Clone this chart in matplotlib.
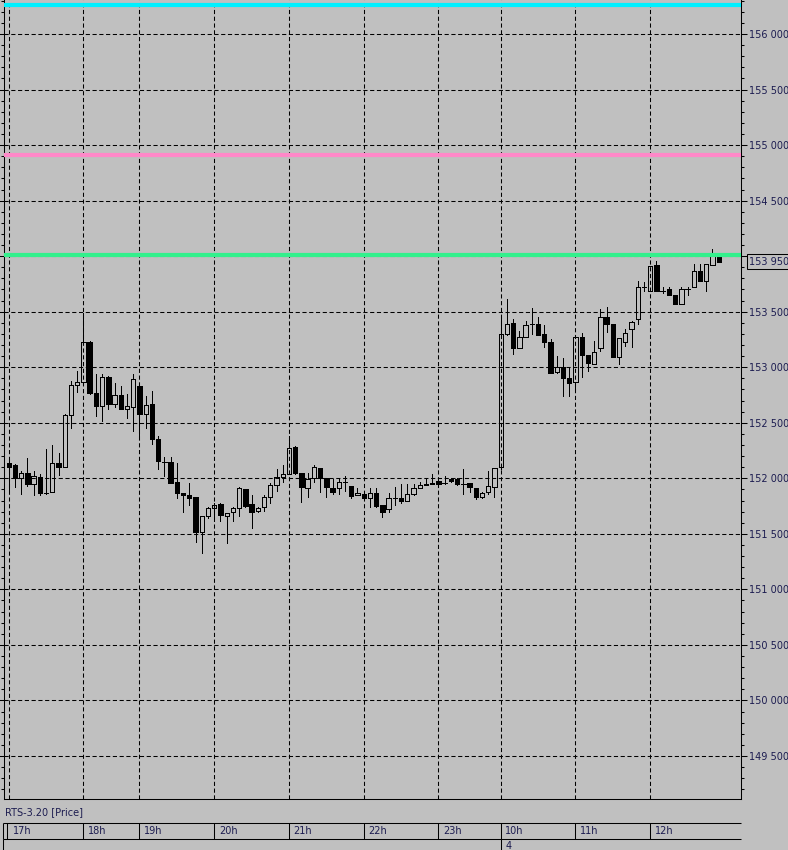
import matplotlib
matplotlib.use('Agg')
import matplotlib.pyplot as plt
import matplotlib.ticker as ticker
import numpy as np
import pandas as pd

# RTS-3.20, 5 minute bars: evening of 3 Feb + morning of 4 Feb 2020
sessions = [('2020-02-03 17:00', '2020-02-03 18:40'),
            ('2020-02-03 19:00', '2020-02-03 23:45'),
            ('2020-02-04 10:00', '2020-02-04 12:55')]

opens = [152140, 152120, 152000, 152050, 151950, 152010, 151870, 151880, 152140, 152100,
         152570, 152840, 152870, 153230, 152770, 152650, 152910, 152670, 152750, 152620,
         152640, 152830, 152580, 152670, 152350, 152150, 152150, 151970, 151870, 151850,
         151830, 151520, 151660, 151730, 151770, 151660, 151700, 151730, 151900, 151770,
         151710, 151740, 151830, 151940, 152010, 152040, 152280, 152050, 151910, 152000,
         152090, 152000, 151910, 151910, 151970, 151930, 151850, 151860, 151820, 151870,
         151760, 151720, 151820, 151820, 151800, 151860, 151910, 151950, 151960, 151980,
         151960, 151990, 151990, 151950, 151960, 151910, 151830, 151880, 151920, 152100,
         153300, 153400, 153170, 153270, 153390, 153390, 153300, 153230, 152960, 153000,
         152900, 152870, 153270, 153110, 153030, 153170, 153450, 153390, 153090, 153230,
         153340, 153430, 153720, 153690, 153920, 153690, 153700, 153650, 153570, 153700,
         153720, 153870, 153780, 153920, 153990]
highs = [152160, 152130, 152070, 152180, 152070, 152040, 152260, 152300, 152230, 152580,
         152880, 152970, 153490, 153240, 152940, 152940, 152920, 152860, 152830, 152760,
         152940, 152830, 152740, 152790, 152380, 152190, 152190, 152140, 151870, 151960,
         151830, 151660, 151740, 151780, 151780, 151690, 151740, 151920, 151900, 151850,
         151740, 151850, 151960, 152080, 152120, 152380, 152290, 152050, 152050, 152120,
         152090, 152000, 151990, 152000, 152020, 151930, 151910, 151860, 151910, 151910,
         151760, 151870, 151920, 151950, 151950, 151950, 151970, 152000, 152040, 151990,
         152020, 152000, 152000, 152080, 151960, 151910, 151880, 152070, 152090, 153460,
         153610, 153430, 153330, 153420, 153530, 153450, 153380, 153250, 153100, 153080,
         153000, 153280, 153310, 153110, 153240, 153520, 153540, 153390, 153260, 153340,
         153420, 153780, 153770, 153910, 153960, 153720, 153720, 153650, 153720, 153720,
         153930, 153930, 153930, 154060, 153990]
lows = [151890, 151920, 151860, 151930, 151850, 151850, 151860, 151880, 152030, 152100,
        152450, 152780, 152840, 152760, 152560, 152520, 152620, 152640, 152620, 152540,
        152430, 152370, 152450, 152310, 152080, 152020, 151960, 151820, 151700, 151760,
        151430, 151330, 151640, 151620, 151620, 151420, 151620, 151660, 151740, 151550,
        151700, 151710, 151780, 151890, 151970, 152040, 152040, 151790, 151830, 151970,
        151880, 151830, 151860, 151860, 151890, 151820, 151850, 151820, 151740, 151740,
        151650, 151700, 151760, 151780, 151800, 151850, 151910, 151940, 151950, 151950,
        151950, 151970, 151940, 151860, 151880, 151810, 151820, 151860, 151830, 152080,
        153290, 153120, 153170, 153270, 153300, 153290, 153180, 152950, 152950, 152740,
        152740, 152800, 152910, 152970, 153030, 153150, 153320, 153090, 153030, 153190,
        153180, 153390, 153690, 153690, 153690, 153670, 153650, 153570, 153570, 153650,
        153720, 153780, 153690, 153920, 153950]
closes = [152100, 152000, 152050, 151950, 152020, 151870, 151870, 152140, 152100, 152570,
          152840, 152870, 153230, 152770, 152650, 152910, 152670, 152750, 152620, 152650,
          152890, 152580, 152660, 152350, 152160, 152150, 151960, 151870, 151850, 151820,
          151520, 151660, 151730, 151760, 151670, 151690, 151730, 151910, 151750, 151700,
          151730, 151830, 151940, 152010, 152040, 152270, 152050, 151920, 151990, 152100,
          152000, 151920, 151880, 151970, 151970, 151840, 151870, 151820, 151870, 151750,
          151700, 151820, 151820, 151800, 151860, 151910, 151940, 151940, 151950, 151950,
          151960, 151980, 151950, 151950, 151920, 151830, 151870, 151930, 152090, 153300,
          153390, 153170, 153270, 153380, 153390, 153290, 153230, 152950, 153000, 152900,
          152860, 153270, 153110, 153040, 153140, 153450, 153390, 153090, 153260, 153310,
          153410, 153720, 153720, 153910, 153690, 153690, 153650, 153570, 153700, 153700,
          153870, 153780, 153930, 154010, 153950]

level_lines = [156260, 154910, 154010]
level_colors = ['#00f0ff', '#ff88c8', '#33f08c']
last_price = 153950
instrument = 'RTS-3.20 [Price]'

BG = '#c0c0c0'
TXT = '#1c1c50'
W, H = 788, 850
GRID_LS = (0, (4, 2.5))

times = pd.DatetimeIndex(np.concatenate(
    [pd.date_range(a, b, freq='5min').values for a, b in sessions]))
x = np.arange(len(times))
hour_idx = [i for i, t in enumerate(times) if t.minute == 0]
hour_lab = ['%dh' % times[i].hour for i in hour_idx]
day_idx = [i for i in range(1, len(times)) if times[i].date() != times[i - 1].date()]

fig = plt.figure(figsize=(W / 100, H / 100), dpi=100, facecolor=BG)
ax = fig.add_axes([4 / W, 51 / H, 737 / W, 799 / H], facecolor=BG)
ax.set_xlim(-0.755, 117.58)
ax.set_ylim(149113, 156306)

# grid
ax.set_xticks(hour_idx)
ax.yaxis.set_major_locator(ticker.MultipleLocator(500))
ax.yaxis.set_minor_locator(ticker.MultipleLocator(100))
ax.grid(True, which='major', color='k', lw=0.75, ls=GRID_LS)
ax.tick_params(axis='x', length=0, labelbottom=False)
ax.tick_params(axis='y', which='both', left=True, right=True, labelleft=False,
               labelright=True, direction='out', width=0.75, colors='k',
               labelcolor=TXT, labelsize=7, pad=1)
ax.tick_params(axis='y', which='major', length=4.5)
ax.tick_params(axis='y', which='minor', length=2.5)
# the 154 000 label sits under the last-price box
ax.yaxis.set_major_formatter(ticker.FuncFormatter(
    lambda v, _: '' if v == 154000 else '{:,}'.format(int(v)).replace(',', ' ')))
ax.spines['top'].set_visible(False)
for s in ('left', 'right', 'bottom'):
    ax.spines[s].set_linewidth(0.75)

# candles: hollow body when close >= open, filled when it fell
o, h, l, c = map(np.array, (opens, highs, lows, closes))
up = c >= o
lo = np.minimum(o, c)
hi = np.maximum(o, c)
ax.vlines(x, hi, h, color='k', lw=0.72, antialiased=False, zorder=3)
ax.vlines(x, l, lo, color='k', lw=0.72, antialiased=False, zorder=3)
ax.bar(x[up], (hi - lo)[up], bottom=lo[up], width=0.7, facecolor='none',
       edgecolor='k', lw=0.55, antialiased=False, zorder=3)
ax.bar(x[~up], (hi - lo)[~up], bottom=lo[~up], width=0.7, facecolor='k',
       edgecolor='k', lw=0.55, antialiased=False, zorder=3)

for v, col in zip(level_lines, level_colors):
    ax.axhline(v, color=col, lw=3, zorder=4)

ax.annotate('{:,}'.format(last_price).replace(',', ' '), xy=(1, last_price),
            xycoords=('axes fraction', 'data'), xytext=(8, 0), textcoords='offset pixels',
            ha='left', va='center', fontsize=7, color=TXT, annotation_clip=False,
            bbox=dict(boxstyle='square,pad=0.25', facecolor=BG, edgecolor='k', lw=0.75))

# time band under the chart
band = fig.add_axes([4 / W, 0, 737 / W, 51 / H])
band.set_xlim(ax.get_xlim())
band.set_ylim(0, 51)
band.axis('off')
x0, x1 = -0.87, ax.get_xlim()[1]
band.hlines([27, 11], x0, x1, color='k', lw=0.75, clip_on=False)
band.vlines([x0, -0.32], 11, 27, color='k', lw=0.75, clip_on=False)
band.vlines(x0, 0, 11, color='k', lw=0.75, clip_on=False)
band.vlines(hour_idx[1:], 11, 27, color='k', lw=0.75)
band.vlines(day_idx, 0, 11, color='k', lw=0.75)
for i, lab in zip(hour_idx, hour_lab):
    band.text(i + 0.75, 19, lab, fontsize=7, ha='left', va='center', color=TXT)
for i in day_idx:
    band.text(i + 0.75, 9, str(times[i].day), fontsize=7, ha='left', va='top', color=TXT)
band.text(-0.6, 37.5, instrument, fontsize=7, ha='left', va='center', color=TXT)

fig.savefig('out.png', dpi=100, facecolor=BG)
